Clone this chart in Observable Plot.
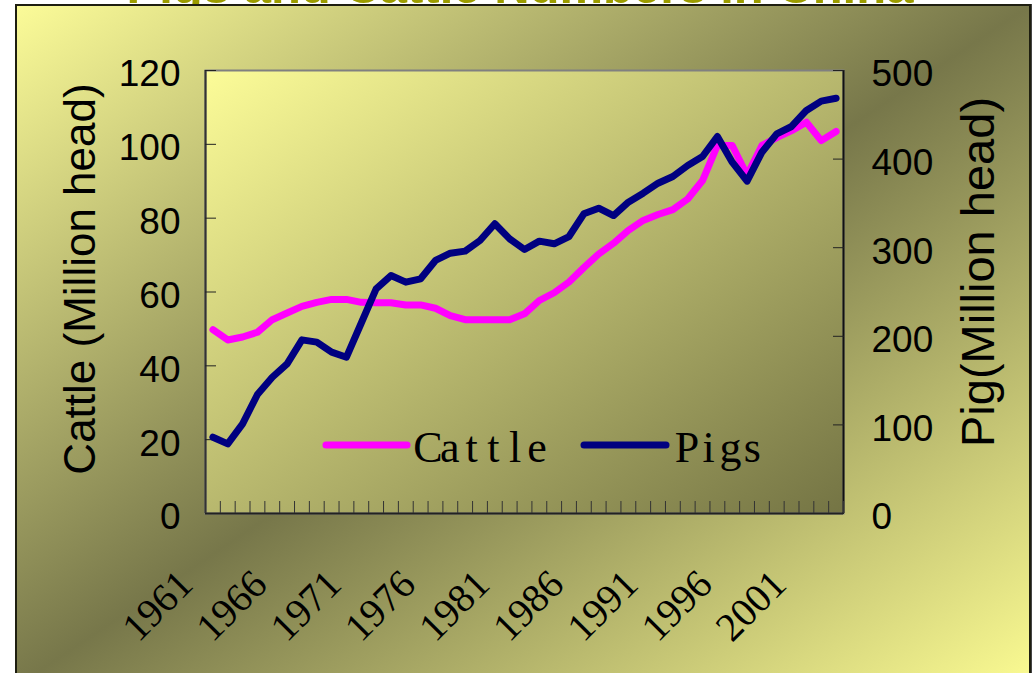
<!DOCTYPE html>
<html><head><meta charset="utf-8">
<script src="https://cdn.jsdelivr.net/npm/d3@7"></script>
<script src="https://cdn.jsdelivr.net/npm/@observablehq/plot@0.6"></script>
<style>
html,body{margin:0;padding:0;background:#fff;}
#wrap{position:relative;width:1032px;height:673px;overflow:hidden;font-family:"Liberation Sans",Arial,sans-serif;}
#title{position:absolute;left:0;width:1040px;top:-36px;text-align:center;font:bold 49px/44px "Liberation Sans",Arial,sans-serif;color:#9C9C00;white-space:nowrap;}
#box{position:absolute;left:15px;top:4px;width:1012px;height:680px;border:2px solid #1e1e10;background:linear-gradient(to bottom right,#FBFB98 0%,#77774A 50%,#FBFB92 100%);box-shadow:2px 0 0 #444;}
#chart{position:absolute;left:0;top:0;}
</style></head><body>
<div id="wrap"><div id="title">Pigs and Cattle Numbers in China</div><div id="box"></div><div id="chart"></div></div>
<script>
const years = [1961,1962,1963,1964,1965,1966,1967,1968,1969,1970,1971,1972,1973,1974,1975,1976,1977,1978,1979,1980,1981,1982,1983,1984,1985,1986,1987,1988,1989,1990,1991,1992,1993,1994,1995,1996,1997,1998,1999,2000,2001,2002,2003];
const cattle = [49.8,47.0,47.8,49.1,52.5,54.3,56.1,57.2,58.0,58.0,57.2,57.1,57.1,56.5,56.5,55.6,53.6,52.5,52.5,52.5,52.5,54.1,57.7,59.8,62.7,66.6,70.3,73.2,76.7,79.4,81.0,82.3,85.2,90.2,99.7,99.7,91.6,99.7,101.8,103.7,106.0,101.0,103.5];
const pigs = [86.1,78.6,101.2,134.3,153.8,168.9,196.0,193.4,182.1,176.4,215.0,253.6,268.6,261.1,264.9,285.6,293.8,296.1,308.1,327.0,310.0,298.0,307.4,304.4,312.6,338.2,344.6,336.3,351.4,361.5,372.8,380.4,392.8,402.9,425.5,396.5,375.1,407.8,428.5,436.8,454.9,465.4,468.7];
const labelYears = [1961,1966,1971,1976,1981,1986,1991,1996,2001];
const cattleTicks = [0,20,40,60,80,100,120];
const pigTicks = [0,100,200,300,400,500];
const seriesNames = ["Cattle","Pigs"];
const seriesColors = ["#FF00FF","#000080"];
const leftTitle = "Cattle (Million head)";
const rightTitle = "Pig(Million head)";

const k = cattleTicks[cattleTicks.length-1] / pigTicks[pigTicks.length-1];
const data = years.map((y,i)=>({year:y, cattle:cattle[i], pigs:pigs[i]}));
const xDomain = [years[0]-0.5, years[years.length-1]+0.5];
const xEdges = [xDomain[0], ...years.map(y=>y+0.5)];

const chart = Plot.plot({
  width:1032, height:673,
  marginLeft:205, marginRight:189, marginTop:70, marginBottom:160,
  style:{background:"transparent", overflow:"visible"},
  x:{domain:xDomain, axis:null},
  y:{domain:[0,120], axis:null},
  marks:[
    Plot.frame({fill:"url(#plotGrad)", stroke:"#808080", strokeWidth:2}),
    Plot.ruleY([0], {stroke:"#222", strokeWidth:2}),
    Plot.ruleX([xDomain[0]], {stroke:"#333", strokeWidth:2}),
    Plot.ruleX([xDomain[1]], {stroke:"#111", strokeWidth:2}),
    Plot.axisX({ticks:xEdges, tickSize:-12, tickFormat:()=>"", stroke:"#333", label:null}),
    Plot.axisY({anchor:"left", ticks:cattleTicks, tickSize:-11, tickFormat:()=>"", stroke:"#222", label:null}),
    Plot.axisY({anchor:"right", ticks:pigTicks.map(v=>v*k), tickSize:-11, tickFormat:()=>"", stroke:"#222", label:null}),
    Plot.axisY({anchor:"left", ticks:cattleTicks, tickSize:0, tickPadding:25, dy:4, fontSize:37, fontFamily:"Liberation Sans", fill:"#000", label:null}),
    Plot.axisY({anchor:"right", ticks:pigTicks.map(v=>v*k), tickSize:0, tickPadding:28, dy:4, fontSize:37, fontFamily:"Liberation Sans", fill:"#000", tickFormat:d=>String(Math.round(d/k)), label:null}),
    Plot.text(labelYears, {x:d=>d, frameAnchor:"bottom", text:d=>String(d), rotate:-45, textAnchor:"end", lineAnchor:"middle", dx:-27, dy:64, fontSize:40, fontFamily:"Liberation Serif", fill:"#000"}),
    Plot.text([leftTitle], {frameAnchor:"left", text:d=>d, rotate:-90, textAnchor:"middle", lineAnchor:"bottom", dx:-111, dy:-13, fontSize:44, fontFamily:"Liberation Sans", fill:"#000"}),
    Plot.text([rightTitle], {frameAnchor:"right", text:d=>d, rotate:-90, textAnchor:"middle", lineAnchor:"bottom", dx:150, dy:-20, fontSize:47, fontFamily:"Liberation Sans", fill:"#000"}),
    Plot.line(data, {x:"year", y:"cattle", stroke:seriesColors[0], strokeWidth:7, strokeLinejoin:"round", strokeLinecap:"round"}),
    Plot.line(data, {x:"year", y:d=>d.pigs*k, stroke:seriesColors[1], strokeWidth:7, strokeLinejoin:"round", strokeLinecap:"round"})
  ]
});

const svg = d3.select(chart);
const defs = svg.insert("defs", ":first-child");
const lg = defs.append("linearGradient").attr("id","plotGrad").attr("x1",0).attr("y1",0).attr("x2",1).attr("y2",1);
lg.append("stop").attr("offset","0%").attr("stop-color","#FCFC98");
lg.append("stop").attr("offset","100%").attr("stop-color","#747444");

// legend
const legend = svg.append("g");
const legendPos = [{x0:326, x1:407, tx:417}, {x0:584, x1:666, tx:676}];
seriesNames.forEach((name,i)=>{
  const p = legendPos[i];
  legend.append("line").attr("x1",p.x0).attr("x2",p.x1).attr("y1",445).attr("y2",445)
    .attr("stroke",seriesColors[i]).attr("stroke-width",7).attr("stroke-linecap","round");
  const adv = 21.8;
  const xs = Array.from(name, (c,j)=> (p.tx + adv*j + adv/2).toFixed(1)).join(" ");
  legend.append("text").attr("x",xs).attr("y",462).attr("text-anchor","middle")
    .attr("font-family","Liberation Serif").attr("font-size",44).attr("fill","#000").text(name);
});

document.getElementById("chart").appendChild(chart);
</script>
</body></html>
